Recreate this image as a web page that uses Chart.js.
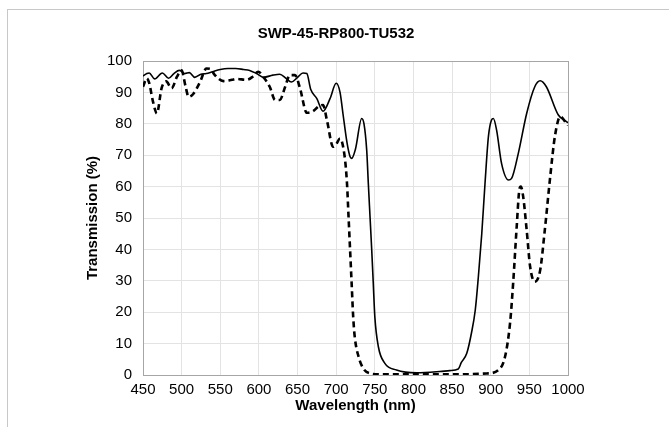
<!DOCTYPE html>
<html>
<head>
<meta charset="utf-8">
<script src="https://cdn.jsdelivr.net/npm/chart.js@4.4.1/dist/chart.umd.min.js"></script>
<style>
  html, body { margin: 0; padding: 0; background: #ffffff; }
  #wrap { position: relative; width: 669px; height: 427px; }
  #frame { position: absolute; left: 7px; top: 9px; right: 0; bottom: 0; border-left: 1px solid #c8c8c8; border-top: 1px solid #c8c8c8; pointer-events: none; }
  canvas { position: absolute; left: 0; top: 0; }
</style>
</head>
<body>
<div id="wrap">
  <canvas id="c" width="669" height="427"></canvas>
  <div id="frame"></div>
</div>
<script>
const chartTitle = "SWP-45-RP800-TU532";
const xAxisTitle = "Wavelength (nm)";
const yAxisTitle = "Transmission (%)";

// Solid series (wavelength nm, transmission %)
const solidNm = [450, 455, 458, 465, 475, 483, 490, 497, 504, 510, 517, 525, 532, 540, 550, 560, 570, 580, 588, 597, 606, 618, 627, 635, 642, 650, 657, 662, 667, 675, 683, 692, 700, 705, 709, 714, 718, 720, 725, 733, 736, 739.5, 741.6, 743.8, 746, 748, 750, 754.6, 763, 778, 804, 834, 847, 858, 862, 869, 875, 880, 884, 888.4, 892.6, 897, 901, 903.4, 907.6, 914, 923, 927, 935.7, 946.5, 957, 964, 972, 987.5, 998, 1000];
const solidT  = [95.2, 96, 96.2, 94.3, 96.2, 94.5, 96, 97, 96, 96.3, 94.8, 95.8, 96, 96.6, 97.3, 97.6, 97.6, 97.3, 97, 96, 94.8, 95.5, 95.8, 94.5, 93.3, 94.8, 96.2, 96, 91, 88, 84, 88, 92.9, 90, 82.8, 74, 69.5, 69, 72, 81.7, 80, 71.6, 61, 50.4, 39.8, 29.2, 18.6, 9, 3.7, 1.6, 0.7, 1.1, 1.4, 1.9, 4, 6.9, 13.3, 20.7, 31.3, 45, 61, 75.9, 81.2, 81.7, 78, 67.4, 62.1, 62.6, 70.6, 83.3, 91.8, 93.7, 91.8, 82.8, 80.7, 80.3];

// Dashed series (wavelength nm, transmission %)
const dashedNm = [450, 455, 458, 463, 468, 474, 480, 487, 494, 500, 505, 509, 515, 524, 532, 537, 543, 554, 565, 571, 584, 592, 599, 607, 614, 621, 627, 634, 640, 646.7, 653, 662, 670, 677, 683, 688, 696, 700, 705, 711, 714, 716, 718, 720, 722, 724, 729, 735, 744, 760, 800, 850, 895, 910, 918.5, 925, 929, 933.6, 937, 939, 942, 946.5, 951, 957, 964, 970, 977, 983, 990, 998, 1000];
const dashedT  = [91.8, 94.5, 93, 87, 83.3, 91.3, 93.5, 91.3, 95, 97, 92, 88.6, 89.5, 93.4, 97.6, 97.5, 95.5, 93.6, 94, 94.3, 94, 95, 96.6, 94.5, 91.8, 87.6, 87.6, 91.8, 95.5, 95.5, 91.5, 83.5, 84, 85.5, 86, 81.2, 72.7, 73.5, 75.3, 69.5, 61, 50.4, 39.8, 29.2, 18.6, 12.2, 5.8, 2.1, 0.5, 0.2, 0.2, 0.2, 0.5, 1.6, 5.8, 16.5, 29.2, 47.2, 58.9, 60, 56.8, 46.2, 34.5, 29.7, 33.4, 46.2, 63.2, 75.9, 82.3, 80.1, 79.5];

const xMin = 450, xMax = 1000, xStep = 50;
const yMin = 0, yMax = 100, yStep = 10;

function pts(xs, ys) { return xs.map((x, i) => ({ x: x, y: ys[i] })); }

const FONT = "'Liberation Sans', Arial, sans-serif";
const PLOT_LEFT = 143, PLOT_BOTTOM = 375, PAD_LEFT = 104;

new Chart(document.getElementById('c'), {
  type: 'line',
  data: {
    datasets: [
      { label: 'solid', data: pts(solidNm, solidT), borderColor: '#000000', borderWidth: 1.6, pointRadius: 0, cubicInterpolationMode: 'monotone', fill: false },
      { label: 'dashed', data: pts(dashedNm, dashedT), borderColor: '#000000', borderWidth: 2.6, borderDash: [6, 4], pointRadius: 0, cubicInterpolationMode: 'monotone', fill: false }
    ]
  },
  options: {
    responsive: false,
    animation: false,
    devicePixelRatio: 1,
    layout: { padding: { left: PAD_LEFT, right: 101, top: 0, bottom: 0 } },
    plugins: {
      legend: { display: false },
      tooltip: { enabled: false },
      title: { display: true, text: chartTitle, color: '#000000', font: { family: FONT, size: 15, weight: 'bold' }, padding: { top: 25, bottom: 18 } }
    },
    scales: {
      x: {
        type: 'linear', min: xMin, max: xMax,
        afterFit: (s) => { s.height = 427 - PLOT_BOTTOM; },
        ticks: { stepSize: xStep, color: '#000000', font: { family: FONT, size: 15 }, padding: 6, maxRotation: 0, autoSkip: false, callback: (v) => String(v) },
        grid: { drawTicks: false, color: (c) => c.tick && c.tick.value === xMax ? '#a6a6a6' : '#e3e3e3', lineWidth: 1 },
        border: { display: true, color: '#a6a6a6' },
        title: { display: true, text: xAxisTitle, color: '#000000', font: { family: FONT, size: 15, weight: 'bold' }, padding: { top: 0, bottom: 12 } }
      },
      y: {
        type: 'linear', min: yMin, max: yMax,
        afterFit: (s) => { s.width = PLOT_LEFT - PAD_LEFT; },
        ticks: { stepSize: yStep, color: '#000000', font: { family: FONT, size: 15 }, padding: 11, callback: (v) => String(v) },
        grid: { drawTicks: false, color: (c) => c.tick && c.tick.value === yMax ? '#a6a6a6' : '#e3e3e3', lineWidth: 1 },
        border: { display: true, color: '#a6a6a6' },
        title: { display: true, text: yAxisTitle, color: '#000000', font: { family: FONT, size: 15, weight: 'bold' }, padding: { top: -20, bottom: 0 } }
      }
    }
  }
});
</script>
</body>
</html>
